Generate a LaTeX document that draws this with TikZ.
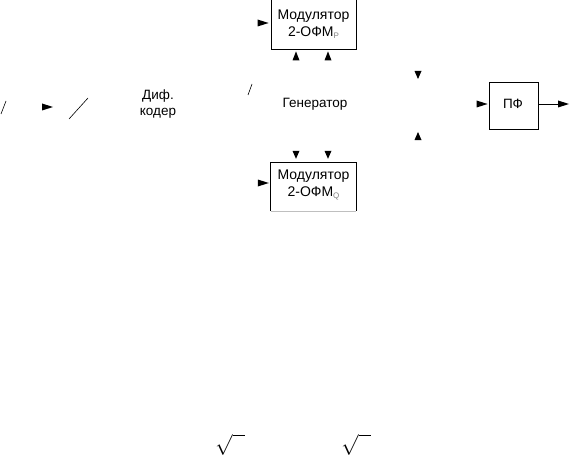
\documentclass[tikz,border=0pt]{standalone}
\usepackage{fontspec}
\setmainfont{Liberation Sans}
\usetikzlibrary{calc}
\tikzset{
  blk/.style={draw=black, line width=0.8pt, inner sep=0pt},
  txt/.style={font=\fontsize{13.5}{15}\selectfont, inner sep=0pt},
  modtxt/.style={font=\fontsize{14}{17}\selectfont, align=center, inner sep=0pt},
  ah/.style={fill=black, draw=none},
  sl/.style={draw=black, line width=0.6pt},
  wire/.style={draw=black, line width=0.7pt},
  rt/.style={inner sep=0pt, font=\fontsize{20}{20}\selectfont}
}
\newcommand{\subsc}[1]{{\color{gray}\fontsize{8}{8}\selectfont\raisebox{-2pt}{#1}}}
\begin{document}
\begin{tikzpicture}[x=1pt,y=-1pt]
\useasboundingbox (0,0) rectangle (571,460);
% blocks
\node[blk, minimum width=85pt, minimum height=51pt] (modP) at (313.5,23.5) {};
\node[modtxt] (modPt) at (313.5,24) {Модулятор\\2-ОФМ\subsc{P}};
\node[minimum width=85pt, minimum height=48pt, inner sep=0pt] (modQ) at (313.5,187) {};
\draw[blk] (modQ.south west) -- (modQ.north west) -- (modQ.north east) -- (modQ.south east);
\draw[draw=black!25, line width=0.5pt] (modQ.south west) -- (modQ.south east);
\node[modtxt] (modQt) at (313.5,185) {Модулятор\\2-ОФМ\subsc{Q}};
\node[blk, minimum width=49pt, minimum height=47pt] (pf) at (513.5,105.5) {};
\node[txt] (pft) at (513,104) {ПФ};
\node[txt, align=center, font=\fontsize{13.5}{15.5}\selectfont] (coder) at (158,104) {Диф.\\кодер};
\node[txt] (gen) at (315,104) {Генератор};
% arrowheads into modulator P
\fill[ah] ($(modP.west)+(-2,-0.5)$) -- ++(-11,-3.5) -- ++(0,7) -- cycle;
\fill[ah] ($(modP.south)+(-17.5,2)$) -- ++(-3.5,9) -- ++(7,0) -- cycle;
\fill[ah] ($(modP.south)+(14.5,2)$) -- ++(-3.5,9) -- ++(7,0) -- cycle;
% arrowheads into modulator Q
\fill[ah] ($(modQ.west)+(-2,-4)$) -- ++(-11,-3.5) -- ++(0,7) -- cycle;
\fill[ah] ($(modQ.north)+(-17.5,-4)$) -- ++(-3.5,-8) -- ++(7,0) -- cycle;
\fill[ah] ($(modQ.north)+(14.5,-4)$) -- ++(-3.5,-8) -- ++(7,0) -- cycle;
% arrowheads near generator
\coordinate (gd) at (418,79);
\coordinate (gu) at (418,132);
\fill[ah] (gd) -- ++(-3.5,-8) -- ++(7,0) -- cycle;
\fill[ah] (gu) -- ++(-3.5,8) -- ++(7,0) -- cycle;
% left arrowhead
\coordinate (la) at (53,107);
\fill[ah] (la) -- ++(-11,-3.5) -- ++(0,7) -- cycle;
% PF
\fill[ah] ($(pf.west)+(-1,-1.5)$) -- ++(-11,-3.5) -- ++(0,7) -- cycle;
\coordinate (out) at (569,104);
\draw[wire] (pf.east |- out) -- ($(out)+(-9,0)$);
\fill[ah] (out) -- ++(-11,-3.5) -- ++(0,7) -- cycle;
% slashes
\draw[sl] (1,114) -- (6,101);
\draw[sl] (69,119) -- (88,98);
\draw[sl] (248,95) -- (252,84);
% square roots
\node[rt] (r1) at (230,445) {$\sqrt{\hphantom{n}}$};
\node[rt] (r2) at (356,445) {$\sqrt{\hphantom{n}}$};
\end{tikzpicture}
\end{document}
